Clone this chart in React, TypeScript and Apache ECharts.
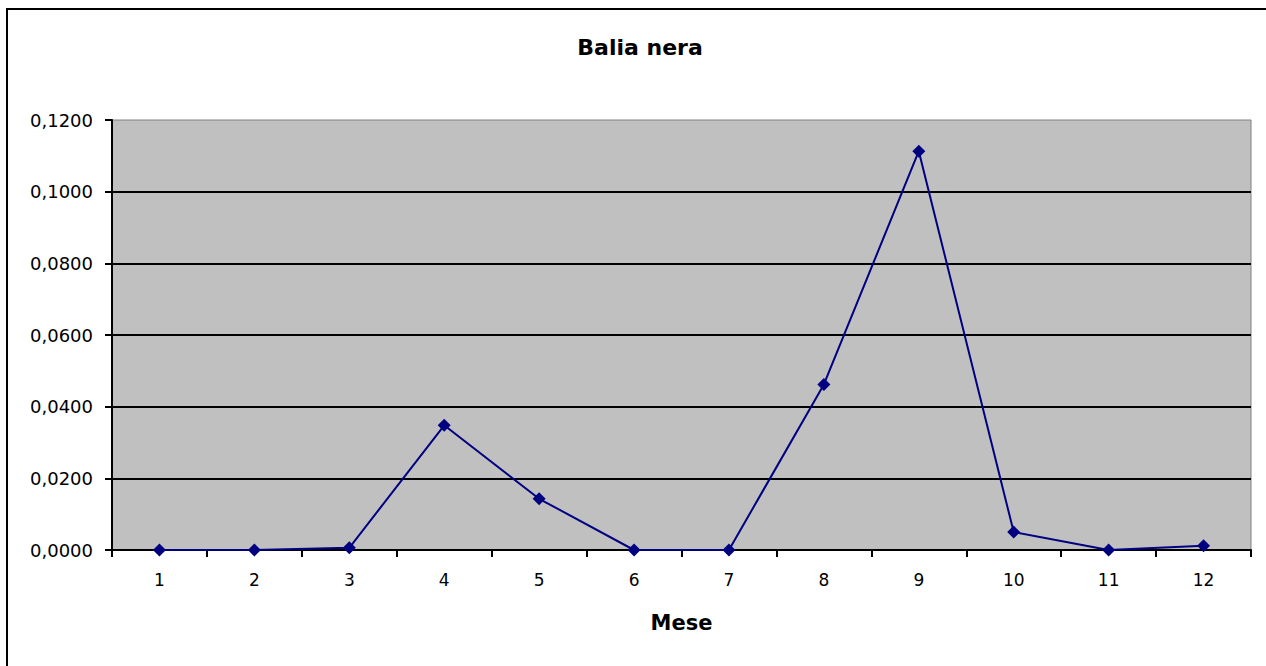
import React, { useEffect, useRef } from "react";
import * as echarts from "echarts";

const months = ["1", "2", "3", "4", "5", "6", "7", "8", "9", "10", "11", "12"];
const values = [0, 0, 0.0006, 0.0348, 0.0143, 0, 0, 0.0462, 0.1113, 0.005, 0, 0.0012];
const chartTitle = "Balia nera";
const xName = "Mese";

export default function App() {
  const ref = useRef<HTMLDivElement>(null);
  useEffect(() => {
    document.body.style.margin = "0";
    const chart = echarts.init(ref.current!, null, { renderer: "svg" });
    const font = "'DejaVu Sans', Arial, sans-serif";
    chart.setOption({
      animation: false,
      backgroundColor: "#ffffff",
      textStyle: { fontFamily: font },
      title: {
        text: chartTitle,
        left: 635,
        top: 31,
        textAlign: "center",
        textStyle: { fontSize: 22, fontWeight: "bold", color: "#000", fontFamily: font },
      },
      graphic: [
        {
          type: "rect",
          shape: { x: 7, y: 9, width: 1400, height: 800 },
          style: { fill: "none", stroke: "#000", lineWidth: 2 },
          silent: true,
        },
      ],
      grid: {
        left: 112,
        top: 120,
        right: 15,
        bottom: 116,
        show: true,
        backgroundColor: "#C0C0C0",
        borderColor: "#808080",
        borderWidth: 1,
      },
      xAxis: {
        type: "category",
        data: months,
        boundaryGap: true,
        name: xName,
        nameLocation: "middle",
        nameGap: 62,
        nameTextStyle: { fontSize: 21, fontWeight: "bold", color: "#000", fontFamily: font },
        axisLine: { lineStyle: { color: "#000", width: 2 } },
        axisTick: { show: true, inside: false, length: 7, alignWithLabel: false, lineStyle: { color: "#000", width: 2 } },
        axisLabel: { fontSize: 17, color: "#000", margin: 21, fontFamily: font },
        splitLine: { show: false },
      },
      yAxis: {
        type: "value",
        min: 0,
        max: 0.12,
        interval: 0.02,
        axisLine: { show: true, lineStyle: { color: "#000", width: 2 } },
        axisTick: { show: true, inside: false, length: 7, lineStyle: { color: "#000", width: 2 } },
        axisLabel: {
          fontSize: 18,
          color: "#000",
          margin: 19,
          fontFamily: font,
          formatter: (v: number) => v.toFixed(4).replace(".", ","),
        },
        splitLine: { show: true, showMaxLine: false, showMinLine: false, lineStyle: { color: "#000", width: 2 } },
      },
      series: [
        {
          type: "line",
          data: values,
          symbol: "diamond",
          symbolSize: 13,
          lineStyle: { color: "#000080", width: 2 },
          itemStyle: { color: "#000080" },
        },
      ],
    });
    return () => chart.dispose();
  }, []);
  return <div ref={ref} style={{ width: 1266, height: 666 }} />;
}
